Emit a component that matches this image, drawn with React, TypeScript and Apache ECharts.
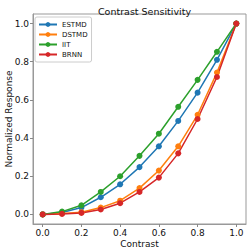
import React, { useEffect, useRef } from "react";
import * as echarts from "echarts";

const contrast = [0, 0.1, 0.2, 0.3, 0.4, 0.5, 0.6, 0.7, 0.8, 0.9, 1.0];
const estmd = [0, 0.01, 0.036, 0.09, 0.158, 0.248, 0.357, 0.49, 0.638, 0.81, 1.0];
const dstmd = [0, 0.005, 0.012, 0.036, 0.072, 0.138, 0.23, 0.357, 0.522, 0.743, 1.0];
const iit = [0, 0.015, 0.048, 0.118, 0.2, 0.307, 0.423, 0.564, 0.705, 0.852, 1.0];
const brnn = [0, 0.003, 0.008, 0.026, 0.059, 0.118, 0.193, 0.32, 0.5, 0.72, 1.0];
const tickValues = [0, 0.2, 0.4, 0.6, 0.8, 1.0];

const seriesDefs = [
  { name: "ESTMD", data: estmd, color: "#1f77b4" },
  { name: "DSTMD", data: dstmd, color: "#ff7f0e" },
  { name: "IIT", data: iit, color: "#2ca02c" },
  { name: "BRNN", data: brnn, color: "#d62728" },
];

const FONT = "DejaVu Sans";

export default function App() {
  const ref = useRef<HTMLDivElement>(null);
  useEffect(() => {
    if (!ref.current) return;
    const chart = echarts.init(ref.current, null, { renderer: "svg" });
    const axisCommon = {
      type: "value" as const,
      min: -0.05,
      max: 1.05,
      axisLine: { show: true, onZero: false, lineStyle: { color: "#999", width: 1 } },
      axisTick: { show: true, length: 3, customValues: tickValues, lineStyle: { color: "#888", width: 1 } },
      axisLabel: {
        customValues: tickValues,
        formatter: (v: number) => v.toFixed(1),
        fontFamily: FONT,
        fontSize: 9,
        color: "#111",
        margin: 4,
        hideOverlap: false,
        showMinLabel: true,
        showMaxLabel: true,
      },
      splitLine: { show: false },
      nameLocation: "middle" as const,
      nameMoveOverlap: false,
      nameTextStyle: { fontFamily: FONT, fontSize: 9, color: "#111" },
    };
    chart.setOption({
      animation: false,
      backgroundColor: "#fff",
      title: {
        text: "Contrast Sensitivity",
        left: 139.5,
        textAlign: "center",
        top: 1,
        textStyle: { fontFamily: FONT, fontSize: 9.5, fontWeight: "normal", color: "#111" },
      },
      grid: {
        left: 33,
        right: 3,
        top: 14,
        bottom: 28,
        containLabel: false,
        outerBoundsMode: "none",
        show: true,
        borderColor: "#999",
        borderWidth: 1,
        backgroundColor: "transparent",
      },
      legend: {
        orient: "vertical",
        left: 35,
        top: 17,
        itemWidth: 18,
        itemHeight: 6,
        itemGap: 1,
        padding: [3, 4, 3, 3],
        backgroundColor: "rgba(255,255,255,0.8)",
        borderColor: "#ccc",
        borderWidth: 1,
        borderRadius: 2,
        textStyle: { fontFamily: FONT, fontSize: 7, color: "#111", lineHeight: 9 },
        data: seriesDefs.map((s) => s.name),
      },
      xAxis: { ...axisCommon, name: "Contrast", nameGap: 15 },
      yAxis: { ...axisCommon, name: "Normalized Response", nameGap: 20 },
      series: seriesDefs.map((s) => ({
        name: s.name,
        type: "line",
        data: contrast.map((x, i) => [x, s.data[i]]),
        symbol: "circle",
        symbolSize: 6,
        showSymbol: true,
        lineStyle: { color: s.color, width: 1.5 },
        itemStyle: { color: s.color },
        color: s.color,
      })),
    });
    return () => chart.dispose();
  }, []);
  return <div ref={ref} style={{ width: 249, height: 252, position: "absolute", left: 0, top: 0 }} />;
}
